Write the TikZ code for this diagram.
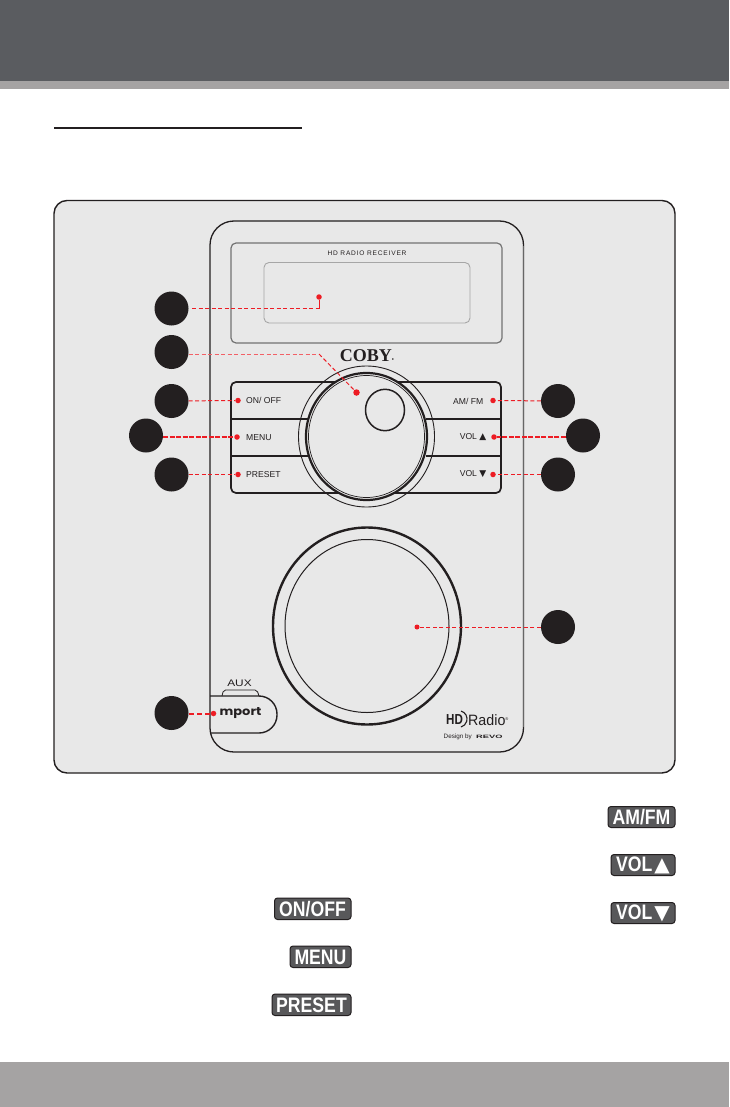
\documentclass[tikz,border=0pt]{standalone}
\usepackage{fontspec}
\setmainfont{Liberation Sans}
\newfontfamily\symfont{DejaVu Sans}
\newfontfamily\serfont{Liberation Serif}
\newfontfamily\popfont{Poppins}
\usetikzlibrary{calc}
\definecolor{band}{HTML}{5A5C60}
\definecolor{strip}{HTML}{A5A3A3}
\definecolor{panelbg}{HTML}{E8E8E8}
\definecolor{ink}{HTML}{231F20}
\definecolor{redline}{HTML}{ED1C24}
\definecolor{btn}{HTML}{58585A}
\tikzset{
  callout/.style={circle,fill=ink,draw=none,minimum size=34pt,inner sep=0pt},
  reddot/.style={circle,fill=redline,draw=none,minimum size=6.5pt,inner sep=0pt},
  lead/.style={draw=redline,line width=1pt,dash pattern=on 4pt off 2.5pt},
  leadthick/.style={draw=redline,line width=2pt,dash pattern=on 5pt off 1.5pt},
  paneltext/.style={text=ink,font=\fontsize{8.6}{10}\selectfont,inner sep=0pt},
  legendbtn/.style={rounded corners=3pt,fill=btn,draw=ink,line width=1pt},
  legendtext/.style={text=white,inner sep=0pt},
  devline/.style={draw=ink,line width=1.6pt},
}
\newcommand{\legendlabel}[2]{\scalebox{#1}[1]{\fontsize{21}{22}\selectfont\bfseries #2}}
\begin{document}
\begin{tikzpicture}[x=1pt,y=-1pt]
\useasboundingbox (0,0) rectangle (729,1107);
\fill[white] (0,0) rectangle (729,1107);
\fill[band] (0,0) rectangle (729,81);
\fill[strip] (0,81) rectangle (729,89);
\fill[strip] (0,1062) rectangle (729,1107);
\draw[ink,line width=2pt] (54,128) -- (302,128);
% panel
\draw[draw=ink,fill=panelbg,line width=1.4pt,rounded corners=13pt] (54,200.5) rectangle (675,773);
% device body
\draw[devline,line width=1.3pt,rounded corners=24pt] (210,221) -- (523.5,221) -- (523.5,752) -- (210,752) -- cycle;
\draw[draw=black!60,line width=1.5pt] (523.5,246) -- (523.5,727);
% display
\draw[draw=black!55,line width=1.2pt,rounded corners=5pt] (231,243) rectangle (502,343);
\draw[draw=black!35,line width=.9pt,rounded corners=5pt] (264,262.5) rectangle (470,323);
\node[paneltext,font=\fontsize{6.6}{8}\selectfont] (hd) at (367,253.5) {\addfontfeature{LetterSpace=12}HD RADIO RECEIVER};
\node[text=ink,inner sep=0pt,font=\serfont\bfseries\fontsize{18}{19}\selectfont] (coby) at (367,356) {COBY\raisebox{0pt}{\fontsize{6}{6}\selectfont\textbullet}};
% button frame
\draw[devline,line width=1.7pt,rounded corners=5pt] (340,382) -- (231,382) -- (231,493) -- (340,493);
\draw[devline,line width=1.7pt,rounded corners=5pt] (393,382) -- (501,382) -- (501,493) -- (393,493);
\draw[devline,line width=1.9pt] (231,419) -- (308,419);
\draw[devline,line width=1.3pt] (231,456) -- (308,456);
\draw[devline,line width=1.9pt] (426,419) -- (501,419);
\draw[devline,line width=1.3pt] (426,456) -- (501,456);
% dial
\draw[draw=ink,line width=.9pt] (366.5,436.5) ellipse (68 and 70.5);
\draw[draw=ink,fill=panelbg,line width=2.2pt] (366.5,436.5) ellipse (60.5 and 63.5);
\draw[draw=ink,line width=.7pt] (366.5,436.5) ellipse (58 and 61);
\draw[draw=ink,line width=1.5pt] (385,410) ellipse (19.5 and 20.7);
% big knob
\draw[draw=ink,line width=2.4pt] (367,626) ellipse (94 and 98.5);
\draw[draw=ink,line width=1pt] (367,626) ellipse (82 and 86.5);
% aux
\node[text=ink,inner sep=0pt,font=\fontsize{9.5}{10}\selectfont] (aux) at (239.5,683.5) {\scalebox{1.25}[1]{AUX}};
\draw[draw=ink,line width=.8pt,rounded corners=2pt] (222,696) -- (223.5,690) -- (257,690) -- (259,696);
\draw[devline,line width=1.4pt,rounded corners=18pt] (210,696) -- (277,696) -- (277,733) -- (210,733);
\node[text=ink,inner sep=0pt,font=\popfont\bfseries\fontsize{11.5}{12}\selectfont] (mport) at (240.5,713) {\scalebox{1.13}[1]{mport}};
% logo
\node[text=ink,inner sep=0pt,font=\fontsize{15}{16}\selectfont,anchor=west] (hdr) at (468,720) {\scalebox{.95}[1]{Radio}\raisebox{5pt}{\fontsize{4}{4}\selectfont\textregistered}};
\node[text=ink,inner sep=0pt,font=\bfseries\fontsize{14.5}{15}\selectfont,anchor=west] (hdm) at (446,720) {\scalebox{.8}[1]{HD}};
\draw[ink,line width=1.1pt] (461,711) arc (-74:74:8.33);
\node[text=ink,inner sep=0pt,font=\fontsize{6.3}{7}\selectfont,anchor=west] (des) at (443.5,737) {Design by};
\node[text=ink,inner sep=0pt,font=\bfseries\fontsize{6}{7}\selectfont,anchor=west] (revo) at (476,737) {\scalebox{1.55}[.8]{REVO}};
% panel labels
\node[paneltext,anchor=west] (lon) at (246,400.5) {ON/ OFF};
\node[paneltext,anchor=west] (lmenu) at (246,437.5) {MENU};
\node[paneltext,anchor=west] (lpre) at (246,474.5) {PRESET};
\node[paneltext,anchor=east] (lam) at (483.5,401) {AM/ FM};
\node[paneltext,anchor=east] (lvu) at (486.5,437.5) {VOL {\symfont\fontsize{9}{10}\selectfont▲}};
\node[paneltext,anchor=east] (lvd) at (486.5,474.5) {VOL {\symfont\fontsize{9}{10}\selectfont▼}};
% callouts
\node[callout] (c1) at (171.5,308.5) {};
\node[callout] (c2) at (171.5,352) {};
\node[callout] (c3) at (171.5,401) {};
\node[callout] (c4) at (146,435.5) {};
\node[callout] (c5) at (171.5,474.5) {};
\node[callout] (c6) at (558,401) {};
\node[callout] (c7) at (583,435.5) {};
\node[callout] (c8) at (558,474.5) {};
\node[callout] (c9) at (558,627) {};
\node[callout] (c10) at (171.5,713) {};
% dots
\node[reddot,minimum size=5.5pt] (d1) at (319,297) {};
\node[reddot] (d2) at (356.5,392.5) {};
\node[reddot,minimum size=5.5pt] (d3) at (238,400.5) {};
\node[reddot,minimum size=5.5pt] (d4) at (237,437) {};
\node[reddot,minimum size=5.5pt] (d5) at (238,474.5) {};
\node[reddot,minimum size=5.5pt] (d6) at (493,400.5) {};
\node[reddot,minimum size=5.5pt] (d7) at (494,437) {};
\node[reddot,minimum size=5.5pt] (d8) at (493,474.5) {};
\node[reddot,minimum size=5pt] (d9) at (417,627) {};
\node[reddot,minimum size=5.5pt] (d10) at (213.5,713.5) {};
\coordinate (k1) at (319,308.5);
\coordinate (k2) at (319,354);
\coordinate (s1) at (192,308.5);
\coordinate (s2) at (188.5,354);
\coordinate (s10) at (189,713.5);
% leaders
\draw[lead] (s1) -- (k1);
\draw[draw=redline,line width=1pt] (k1) -- (d1);
\draw[lead,draw=redline!70] (s2) -- (k2);
\draw[lead] (k2) -- (d2);
\draw[lead] (c3) -- (d3);
\draw[leadthick] (c4.east |- d4) -- (d4);
\draw[lead] (c5) -- (d5);
\draw[lead] (c6) -- (d6);
\draw[leadthick] (c7.west |- d7) -- (d7);
\draw[lead] (c8) -- (d8);
\draw[lead,line width=.8pt] (c9) -- (d9);
\draw[leadthick,dash pattern=on 5pt off 3pt] (s10) -- (d10);
% legend buttons
\draw[legendbtn] (608,806.5) rectangle (675,827.5);
\node[legendtext] (tam) at (641.5,817.5) {\legendlabel{.84}{AM/FM}};
\draw[legendbtn] (611,854.5) rectangle (675,875.5);
\node[legendtext] (tvu) at (643,865.5) {\legendlabel{.84}{VOL}\hspace{2pt}{\symfont\fontsize{20}{20}\selectfont▲}};
\draw[legendbtn] (611,902.5) rectangle (675,923.5);
\node[legendtext] (tvd) at (643,913.5) {\legendlabel{.84}{VOL}\hspace{2pt}{\symfont\fontsize{20}{20}\selectfont▼}};
\draw[legendbtn] (274.5,898) rectangle (351,919.5);
\node[legendtext] (ton) at (312.5,909) {\legendlabel{.84}{ON/OFF}};
\draw[legendbtn] (290,946) rectangle (351,967.5);
\node[legendtext] (tme) at (320.5,957) {\legendlabel{.84}{MENU}};
\draw[legendbtn] (272,994) rectangle (351,1015.5);
\node[legendtext] (tpr) at (311.5,1005) {\legendlabel{.84}{PRESET}};
\end{tikzpicture}
\end{document}
